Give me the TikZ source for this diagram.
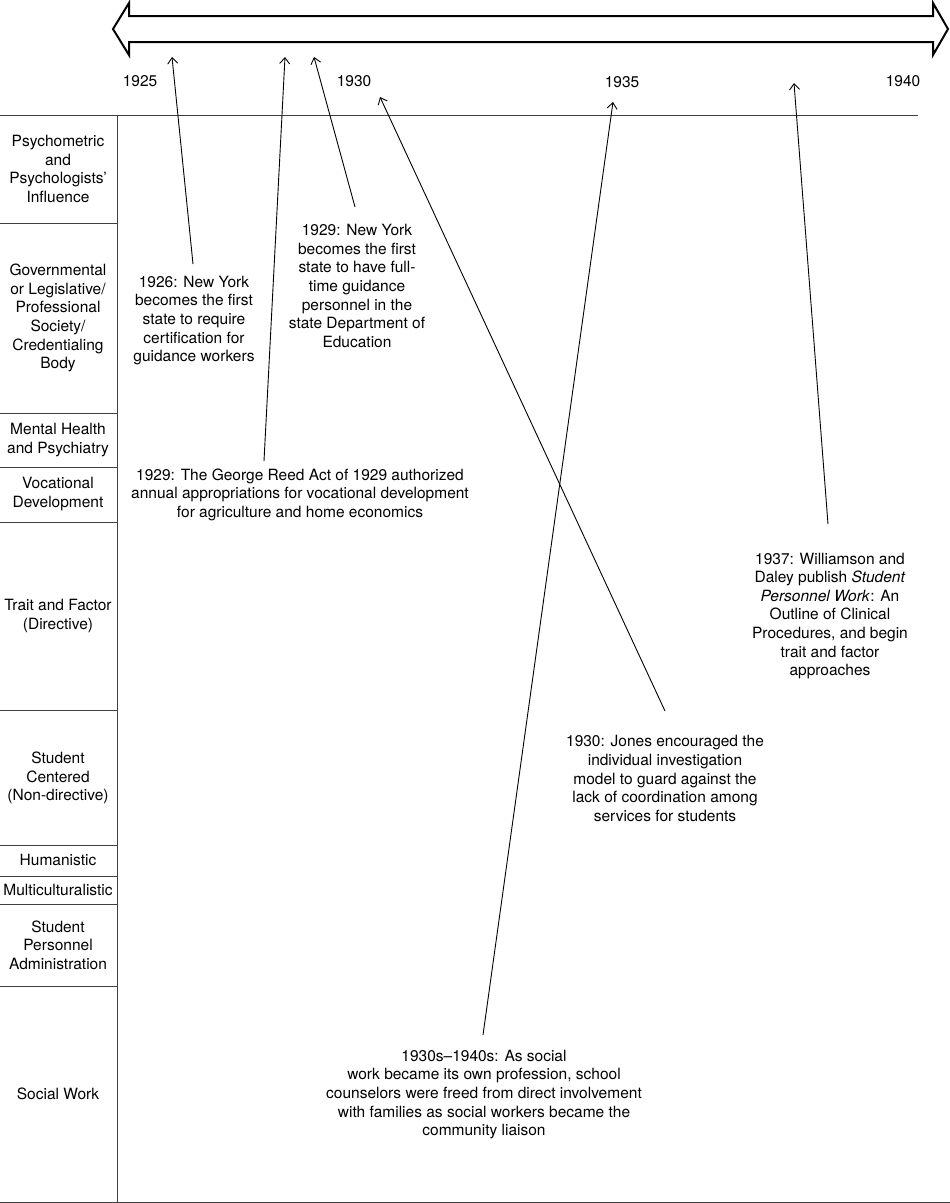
\documentclass[tikz,border=0pt]{standalone}
\usepackage{fontspec}
\setmainfont{TeX Gyre Heros}
\usetikzlibrary{arrows.meta}
\begin{document}
\begin{tikzpicture}[x=1pt,y=-1pt,
  txt/.style={font=\fontsize{15.5}{18.6}\selectfont, align=center, inner sep=0pt},
  rowline/.style={draw=black!75, line width=1pt},
  ptr/.style={draw=black, line width=0.9pt, -{Straight Barb[length=6pt,width=10pt]}},
  bigarrow/.style={draw=black, line width=2pt, fill=white, line join=miter}]
\useasboundingbox (0,0) rectangle (950,1203);
% timeline double arrow
\draw[bigarrow] (113,29) -- (129,3) -- (129,16) -- (933,16) -- (933,3) -- (948,29)
  -- (933,55) -- (933,42) -- (129,42) -- (129,55) -- cycle;
% years
\node[txt] (y1925) at (140,81) {1925};
\node[txt] (y1930) at (354,81) {1930};
\node[txt] (y1935) at (622,82) {1935};
\node[txt] (y1940) at (903,81) {1940};
% grid
\draw[rowline] (0,115) -- (918,115);
\draw[rowline] (117,115) -- (117,1203);
\draw[rowline] (0,1202) -- (950,1202);
\foreach \yy in {223,413,467,522,710,845,876,904,986}
  \draw[rowline] (0,\yy) -- (117,\yy);
% row labels
\node[txt] (r1) at (58,169) {Psychometric\\and\\Psychologists’\\Influence};
\node[txt] (r2) at (58,318) {Governmental\\or Legislative/\\Professional\\Society/\\Credentialing\\Body};
\node[txt] (r3) at (58,440) {Mental Health\\and Psychiatry};
\node[txt] (r4) at (58,494) {Vocational\\Development};
\node[txt] (r5) at (58,616) {Trait and Factor\\(Directive)};
\node[txt] (r6) at (58,778) {Student\\Centered\\(Non-directive)};
\node[txt] (r7) at (58,860) {Humanistic};
\node[txt] (r8) at (58,890) {Multiculturalistic};
\node[txt] (r9) at (58,945) {Student\\Personnel\\Administration};
\node[txt] (r10) at (58,1094) {Social Work};
% annotations
\node[txt] (n1926) at (194,320.5) {1926: New York\\becomes the first\\state to require\\certification for\\guidance workers};
\node[txt] (n1929a) at (300,494.5) {1929: The George Reed Act of 1929 authorized\\annual appropriations for vocational development\\for agriculture and home economics};
\node[txt] (n1929b) at (357,286) {1929: New York\\becomes the first\\state to have full-\\time guidance\\personnel in the\\state Department of\\Education};
\node[txt] (n1930) at (665,778.5) {1930: Jones encouraged the\\individual investigation\\model to guard against the\\lack of coordination among\\services for students};
\node[txt] (n1930s) at (484,1094.5) {1930s–1940s: As social\\work became its own profession, school\\counselors were freed from direct involvement\\with families as social workers became the\\community liaison};
\node[txt] (n1937) at (830,616) {1937: Williamson and\\Daley publish \textit{Student}\\\textit{Personnel Work}: An\\Outline of Clinical\\Procedures, and begin\\trait and factor\\approaches};
% arrow end points
\coordinate (s1) at (193,264); \coordinate (t1) at (172,57);
\coordinate (s2) at (264,461); \coordinate (t2) at (285,57);
\coordinate (s3) at (355,207); \coordinate (t3) at (314,57);
\coordinate (s4) at (665,711); \coordinate (t4) at (380,97);
\coordinate (s5) at (483,1035); \coordinate (t5) at (613,102);
\coordinate (s6) at (828,524); \coordinate (t6) at (794,83);
\draw[ptr] (s1) -- (t1);
\draw[ptr] (s2) -- (t2);
\draw[ptr] (s3) -- (t3);
\draw[ptr] (s4) -- (t4);
\draw[ptr] (s5) -- (t5);
\draw[ptr] (s6) -- (t6);
\end{tikzpicture}
\end{document}
